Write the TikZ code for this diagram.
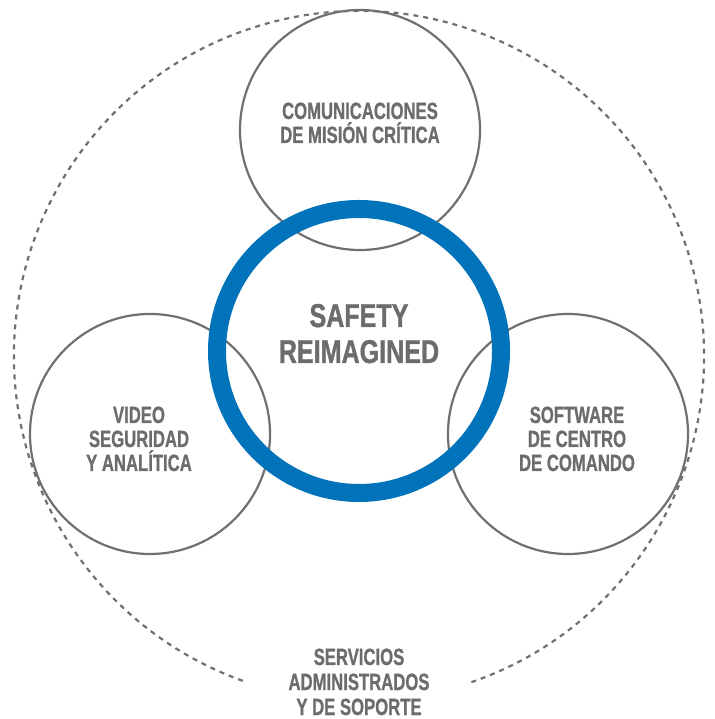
\documentclass[tikz,border=0pt]{standalone}
\usepackage{fontspec}
\setmainfont[FakeStretch=0.71, BoldFeatures={FakeBold=0.9}]{Liberation Sans}
\newfontfamily\corefont[FakeStretch=0.76, BoldFeatures={FakeBold=1.0}]{Liberation Sans}
\usetikzlibrary{calc}

\definecolor{ringblue}{RGB}{0,115,187}
\definecolor{labelgray}{RGB}{108,108,108}
\definecolor{linegray}{RGB}{112,112,112}

\tikzset{
  area/.style={circle, draw=linegray, line width=2.2pt, minimum size=240pt, inner sep=0pt},
  caption/.style={align=center, anchor=base, inner sep=0pt, text=labelgray,
    font=\bfseries\fontsize{23.5}{24}\selectfont}
}

\begin{document}
\begin{tikzpicture}[x=1pt,y=1pt]
  \useasboundingbox (0,0) rectangle (714,719);
  \coordinate (hub) at (359,363);
  % outer dashed ring, open at the bottom
  \draw[linegray, line width=2.2pt, dash pattern=on 5pt off 5pt] (hub) ++(-71:345pt) arc[start angle=-71, end angle=251, radius=345pt];

  \node (comms) [area] at (360,589) {};
  \node (video) [area] at (150,285) {};
  \node (soft) [area] at (568,285) {};
  \node (core) [circle, draw=ringblue, line width=18pt, minimum size=284pt, inner sep=0pt] at (359,368) {};

  % captions sit on the baseline of their last line
  \node (commstext) [caption] at ($(comms)+(0,-13)$) {COMUNICACIONES\\DE MISIÓN CRÍTICA};
  \node (videotext) [caption] at ($(video)+(-11,-37)$) {VIDEO\\SEGURIDAD\\Y ANALÍTICA};
  \node (softtext) [caption] at ($(soft)+(9,-37)$) {SOFTWARE\\DE CENTRO\\DE COMANDO};
  \node (coretext) [caption, font=\corefont\bfseries\fontsize{33}{36}\selectfont] at ($(core)+(0,-12)$) {SAFETY\\REIMAGINED};
  \node (services) [caption, font=\bfseries\fontsize{23.5}{25}\selectfont] at (359,4) {SERVICIOS\\ADMINISTRADOS\\Y DE SOPORTE};
\end{tikzpicture}
\end{document}
